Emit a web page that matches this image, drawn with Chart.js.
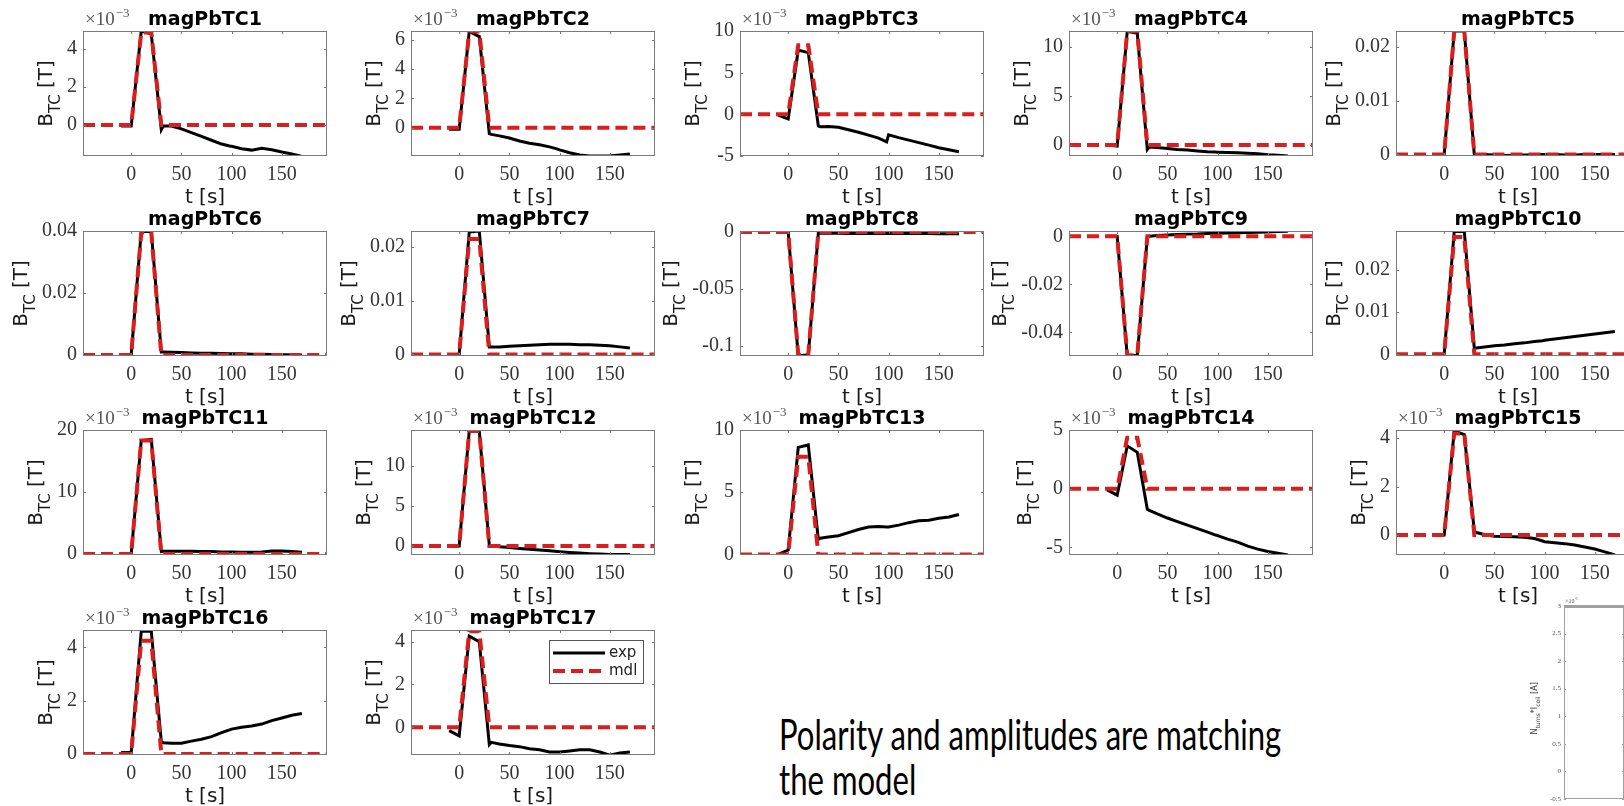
<!DOCTYPE html>
<html>
<head>
<meta charset="utf-8">
<script src="https://cdn.jsdelivr.net/npm/chart.js@4"></script>
<style>
  body { margin: 0; background: #fff; width: 1624px; height: 806px; overflow: hidden; position: relative; }
  canvas { position: absolute; }
  #note { position: absolute; left: 779px; top: 712px; font-family: Lato, "Open Sans", sans-serif; font-size: 42px;
          line-height: 45px; white-space: nowrap; color: #000; transform-origin: 0 0; }
</style>
</head>
<body>
<div id="note"><span id="line1">Polarity and amplitudes are matching</span><br><span>the model</span></div>
<script>
// time grids (s)
const tExp = [-10, 0, 10, 20, 30, 32, 40, 50, 60, 70, 80, 90, 98, 100, 110, 120, 130, 140, 150, 160, 170];
const tMdl = [-48, 0, 10, 20, 30, 195];
const xTicks = [0, 50, 100, 150];

// measured field, in axis units (x1e-3 T where the axis shows the multiplier)
const exp1 = [-0.05, -0.05, 4.95, 4.8, -0.25, -0.05, -0.05, -0.2, -0.4, -0.6, -0.8, -1.0, -1.1, -1.12, -1.25, -1.32, -1.22, -1.3, -1.42, -1.52, -1.65];
const exp2 = [-0.1, -0.1, 6.55, 6.2, -0.4, -0.45, -0.55, -0.7, -0.9, -1.05, -1.15, -1.3, -1.45, -1.5, -1.7, -1.85, -1.92, -1.92, -1.92, -1.85, -1.78];
const exp3 = [-0.1, -0.55, 7.7, 7.4, -1.4, -1.5, -1.45, -1.55, -1.85, -2.15, -2.5, -2.85, -3.3, -2.45, -2.8, -3.1, -3.4, -3.7, -4.0, -4.25, -4.5];
const exp4 = [0, -0.1, 11.6, 11.4, -0.45, -0.2, -0.25, -0.35, -0.45, -0.52, -0.6, -0.68, -0.72, -0.73, -0.76, -0.8, -0.83, -0.88, -0.98, -1.05, -1.12];
const exp5 = [0, 0, 0.023, 0.023, -0.0001, 0, 0, -0.0001, -0.0002, -0.0002, -0.0001, -0.0001, 0, 0, 0, -0.0001, -0.0001, 0, 0, 0, 0];
const exp6 = [0, 0, 0.0398, 0.0398, 0.001, 0.001, 0.0009, 0.0008, 0.0007, 0.0006, 0.0006, 0.0005, 0.0004, 0.0004, 0.0004, 0.0003, 0.0003, 0.0002, 0.0001, 0.0001, 0];
const exp7 = [0, 0, 0.0228, 0.023, 0.0014, 0.0014, 0.0014, 0.0015, 0.0016, 0.0017, 0.0018, 0.0019, 0.0019, 0.0019, 0.0019, 0.0018, 0.0018, 0.0017, 0.0016, 0.0014, 0.0012];
const exp8 = [0, 0, -0.109, -0.108, -0.001, -0.001, -0.001, -0.001, -0.0012, -0.0012, -0.0012, -0.0013, -0.0013, -0.0013, -0.0013, -0.0014, -0.0014, -0.0014, -0.0015, -0.0015, -0.0015];
const exp9 = [0, 0, -0.0498, -0.0495, -0.0003, 0, 0.0003, 0.0005, 0.0007, 0.0009, 0.001, 0.0012, 0.0013, 0.0013, 0.0014, 0.0015, 0.0016, 0.0017, 0.0018, 0.002, 0.0021];
const exp10 = [0, 0.0001, 0.029, 0.029, 0.0014, 0.0015, 0.0017, 0.002, 0.0022, 0.0025, 0.0027, 0.003, 0.0032, 0.0033, 0.0036, 0.0039, 0.0042, 0.0045, 0.0048, 0.0051, 0.0054];
const exp11 = [-0.05, 0, 18.3, 18.5, 0.4, 0.45, 0.45, 0.45, 0.45, 0.4, 0.4, 0.35, 0.35, 0.35, 0.3, 0.3, 0.35, 0.5, 0.5, 0.4, 0.3];
const exp12 = [0, 0, 14.3, 14.3, 0.1, 0.05, -0.1, -0.2, -0.3, -0.4, -0.5, -0.6, -0.68, -0.7, -0.8, -0.88, -0.95, -1.0, -1.05, -1.05, -1.05];
const exp13 = [0, 0.35, 8.6, 8.8, 1.2, 1.3, 1.4, 1.5, 1.75, 2.0, 2.2, 2.25, 2.2, 2.2, 2.35, 2.55, 2.7, 2.75, 2.9, 3.0, 3.2];
const exp14 = [-0.1, -0.55, 3.65, 3.1, -1.75, -1.85, -2.15, -2.5, -2.8, -3.1, -3.4, -3.7, -3.95, -4.0, -4.3, -4.55, -4.9, -5.15, -5.35, -5.5, -5.65];
const exp15 = [0, 0, 4.3, 4.15, 0.15, 0.1, 0.02, -0.05, -0.07, -0.08, -0.1, -0.15, -0.25, -0.28, -0.32, -0.36, -0.42, -0.5, -0.58, -0.7, -0.83];
const exp16 = [0.05, 0.05, 4.6, 4.6, 0.45, 0.42, 0.4, 0.4, 0.48, 0.55, 0.65, 0.8, 0.9, 0.93, 1.0, 1.05, 1.12, 1.25, 1.35, 1.45, 1.52];
const exp17 = [-0.15, -0.4, 4.25, 4.0, -0.8, -0.7, -0.78, -0.85, -0.9, -1.0, -1.05, -1.15, -1.15, -1.15, -1.1, -1.05, -1.05, -1.15, -1.3, -1.2, -1.15];

// model
const mdl1 = [0, 0, 4.87, 4.87, 0, 0];
const mdl2 = [0, 0, 6.55, 6.55, 0, 0];
const mdl3 = [0, 0, 8.3, 8.3, 0, 0];
const mdl4 = [0, 0, 11.6, 11.6, 0, 0];
const mdl5 = [0, 0, 0.023, 0.023, 0, 0];
const mdl6 = [0, 0, 0.0395, 0.0395, 0, 0];
const mdl7 = [0, 0, 0.0215, 0.0215, 0, 0];
const mdl8 = [0, 0, -0.108, -0.108, 0, 0];
const mdl9 = [0, 0, -0.0495, -0.0495, 0, 0];
const mdl10 = [0, 0, 0.0277, 0.0277, 0, 0];
const mdl11 = [0, 0, 18.3, 18.3, 0, 0];
const mdl12 = [0, 0, 14.3, 14.3, 0, 0];
const mdl13 = [0, 0, 7.85, 7.85, 0, 0];
const mdl14 = [0, 0, 4.35, 4.35, 0, 0];
const mdl15 = [0, 0, 4.2, 4.2, 0, 0];
const mdl16 = [0, 0, 4.25, 4.25, 0, 0];
const mdl17 = [0, 0, 4.48, 4.48, 0, 0];

const names = ['magPbTC1', 'magPbTC2', 'magPbTC3', 'magPbTC4', 'magPbTC5', 'magPbTC6', 'magPbTC7', 'magPbTC8', 'magPbTC9',
  'magPbTC10', 'magPbTC11', 'magPbTC12', 'magPbTC13', 'magPbTC14', 'magPbTC15', 'magPbTC16', 'magPbTC17'];
const yMin = [-1.63, -1.92, -5, -1.12, -0.0003, -0.0003, -0.0003, -0.109, -0.0498, -0.0004, -0.15, -1.12, -0.05, -5.65, -0.83, -0.04, -1.29];
const yMax = [4.95, 6.58, 10, 11.63, 0.023, 0.04, 0.023, 0.0009, 0.0022, 0.0291, 20, 14.44, 10, 5, 4.34, 4.65, 4.54];
const yTicks = [[0, 2, 4], [0, 2, 4, 6], [-5, 0, 5, 10], [0, 5, 10], [0, 0.01, 0.02], [0, 0.02, 0.04], [0, 0.01, 0.02],
  [-0.1, -0.05, 0], [-0.04, -0.02, 0], [0, 0.01, 0.02], [0, 10, 20], [0, 5, 10], [0, 5, 10], [-5, 0, 5], [0, 2, 4], [0, 2, 4], [0, 2, 4]];
const milli = [true, true, true, true, false, false, false, false, false, false, true, true, true, true, true, true, true];

const expSeries = [exp1, exp2, exp3, exp4, exp5, exp6, exp7, exp8, exp9, exp10, exp11, exp12, exp13, exp14, exp15, exp16, exp17];
const mdlSeries = [mdl1, mdl2, mdl3, mdl4, mdl5, mdl6, mdl7, mdl8, mdl9, mdl10, mdl11, mdl12, mdl13, mdl14, mdl15, mdl16, mdl17];

// inset (cut off at the right edge)
const insetTicks = [-0.5, 0, 0.5, 1, 1.5, 2, 2.5, 3];

const RED = '#d81e1e';
const tickFont = { family: '"Liberation Serif", serif', size: 20 };
const colLeft = [83, 411, 740, 1069, 1396];
const rowTop = [31, 231, 430, 630];
const boxW = 244, boxH = 125;
const padL = 90, padT = 36, padB = 56, padR = 10;

function drawSubLabel(ctx, cx, cy, parts, base) {
  // parts: [text, font, dy]
  ctx.save();
  ctx.translate(cx, cy);
  ctx.rotate(-Math.PI / 2);
  ctx.textAlign = 'left';
  ctx.textBaseline = 'alphabetic';
  let total = 0;
  parts.forEach(p => { ctx.font = p[1]; total += ctx.measureText(p[0]).width; });
  let x = -total / 2;
  parts.forEach(p => { ctx.font = p[1]; ctx.fillText(p[0], x, base + p[2]); x += ctx.measureText(p[0]).width; });
  ctx.restore();
}

const matlabAxes = {
  id: 'matlabAxes',
  afterDraw(chart, args, o) {
    const { ctx, chartArea: a, scales: { x, y } } = chart;
    ctx.save();
    // box and inward ticks
    ctx.strokeStyle = o.boxColor || '#7a7a7a';
    ctx.lineWidth = 1;
    ctx.strokeRect(Math.round(a.left) + 0.5, Math.round(a.top) + 0.5, Math.round(a.width) - 1, Math.round(a.height) - 1);
    if (o.topWidth) {
      ctx.fillStyle = o.boxColor;
      ctx.fillRect(a.left, a.top - 1, a.width, o.topWidth);
    }
    ctx.beginPath();
    const tl = o.tickLen || 3;
    if (o.xTicks) x.ticks.forEach(t => {
      const px = Math.round(x.getPixelForValue(t.value)) + 0.5;
      ctx.moveTo(px, a.bottom); ctx.lineTo(px, a.bottom - tl);
      ctx.moveTo(px, a.top); ctx.lineTo(px, a.top + tl);
    });
    y.ticks.forEach(t => {
      const py = Math.round(y.getPixelForValue(t.value)) + 0.5;
      ctx.moveTo(a.left, py); ctx.lineTo(a.left + tl, py);
      ctx.moveTo(a.right, py); ctx.lineTo(a.right - tl, py);
    });
    ctx.stroke();

    // width of widest y tick label
    ctx.font = `${o.tickSize || 20}px ${o.tickFamily || '"Liberation Serif"'}`;
    let maxW = 0;
    y.ticks.forEach(t => { maxW = Math.max(maxW, ctx.measureText(t.label).width); });

    if (o.title) {
      ctx.fillStyle = '#000';
      ctx.font = 'bold 19px "DejaVu Sans"';
      ctx.textAlign = 'center';
      ctx.textBaseline = 'alphabetic';
      ctx.fillText(o.title, (a.left + a.right) / 2, a.top - 6);
    }
    if (o.mult) {
      ctx.fillStyle = '#555';
      ctx.textAlign = 'left';
      ctx.textBaseline = 'alphabetic';
      ctx.font = `${o.multSize}px "Liberation Serif"`;
      const mx = a.left + o.multDx;
      ctx.fillText('×10', mx, a.top - o.multDy);
      const w = ctx.measureText('×10').width;
      ctx.font = `${Math.round(o.multSize * 0.68)}px "Liberation Serif"`;
      ctx.fillText(o.mult, mx + w + 1, a.top - o.multDy - o.multSize * 0.42);
    }
    if (o.xlabel) {
      ctx.fillStyle = '#1a1a1a';
      ctx.font = '20px "DejaVu Sans"';
      ctx.textAlign = 'center';
      ctx.textBaseline = 'middle';
      ctx.fillText(o.xlabel, (a.left + a.right) / 2, a.bottom + 42);
    }
    if (o.ylabel === 'B') {
      ctx.fillStyle = '#1a1a1a';
      drawSubLabel(ctx, a.left - 6 - maxW - 18, (a.top + a.bottom) / 2,
        [['B', '20px "DejaVu Sans"', 0], ['TC', '15px "DejaVu Sans"', 8], [' [T]', '20px "DejaVu Sans"', 0]], 3);
    }
    if (o.ylabel === 'N') {
      ctx.fillStyle = '#333';
      drawSubLabel(ctx, a.left - 4 - maxW - 14, (a.top + a.bottom) / 2 + 6,
        [['N', '8px "DejaVu Sans"', 0], ['turns', '6px "DejaVu Sans"', 3], ['*I', '8px "DejaVu Sans"', 0],
         ['coil', '6px "DejaVu Sans"', 3], [' [A]', '8px "DejaVu Sans"', 0]], 2);
    }
    if (o.legend) {
      const ds = chart.data.datasets;
      const lx = Math.round(a.right) - 106, ly = Math.round(a.top) + 10, lw = 94, lh = 43;
      ctx.fillStyle = '#fff';
      ctx.fillRect(lx, ly, lw, lh);
      ctx.strokeStyle = '#555';
      ctx.lineWidth = 1;
      ctx.strokeRect(lx + 0.5, ly + 0.5, lw, lh);
      [ds[1], ds[0]].forEach((d, k) => {
        const yy = ly + 13 + k * 18;
        ctx.beginPath();
        ctx.strokeStyle = d.borderColor;
        ctx.lineWidth = d.borderWidth;
        ctx.setLineDash(d.borderDash || []);
        ctx.moveTo(lx + 4, yy); ctx.lineTo(lx + 56, yy);
        ctx.stroke();
        ctx.setLineDash([]);
        ctx.fillStyle = '#222';
        ctx.font = '15px "DejaVu Sans"';
        ctx.textAlign = 'left';
        ctx.textBaseline = 'middle';
        ctx.fillText(d.label, lx + 60, yy);
      });
    }
    ctx.restore();
  }
};

names.forEach((name, i) => {
  const cv = document.createElement('canvas');
  cv.width = boxW + padL + padR;
  cv.height = boxH + padT + padB;
  cv.style.left = (colLeft[i % 5] - padL) + 'px';
  cv.style.top = (rowTop[Math.floor(i / 5)] - padT) + 'px';
  document.body.appendChild(cv);

  new Chart(cv, {
    type: 'line',
    data: {
      datasets: [
        { label: 'mdl', data: tMdl.map((t, k) => ({ x: t, y: mdlSeries[i][k] })), borderColor: RED, borderWidth: 4,
          borderDash: [12, 6], pointRadius: 0, clip: 0 },
        { label: 'exp', data: tExp.map((t, k) => ({ x: t, y: expSeries[i][k] })), borderColor: '#000', borderWidth: 3,
          pointRadius: 0, clip: 0 }
      ]
    },
    options: {
      responsive: false,
      animation: false,
      events: [],
      layout: { padding: { left: 0, right: padR, top: padT, bottom: 0 } },
      plugins: {
        legend: { display: false },
        tooltip: { enabled: false },
        matlabAxes: {
          title: name, xlabel: 't [s]', ylabel: 'B', xTicks: true, legend: i === 16,
          mult: milli[i] ? '−3' : '', multSize: 19, multDx: 2, multDy: 6
        }
      },
      scales: {
        x: {
          type: 'linear', min: -48, max: 195,
          grid: { display: false, drawTicks: false }, border: { display: false },
          afterBuildTicks: s => { s.ticks = xTicks.map(v => ({ value: v })); },
          afterFit: s => { s.height = padB; },
          ticks: { font: tickFont, color: '#333', padding: 7, maxRotation: 0, autoSkip: false, callback: v => String(v) }
        },
        y: {
          type: 'linear', min: yMin[i], max: yMax[i],
          grid: { display: false, drawTicks: false }, border: { display: false },
          afterBuildTicks: s => { s.ticks = yTicks[i].map(v => ({ value: v })); },
          afterFit: s => { s.width = padL; },
          ticks: { font: tickFont, color: '#333', padding: 6, autoSkip: false, callback: v => String(v) }
        }
      }
    },
    plugins: [matlabAxes]
  });
});

// bottom-right inset axis
(function () {
  const cv = document.createElement('canvas');
  cv.width = 154; cv.height = 226;
  cv.style.left = '1470px'; cv.style.top = '580px';
  document.body.appendChild(cv);
  new Chart(cv, {
    type: 'line',
    data: { datasets: [] },
    options: {
      responsive: false, animation: false, events: [],
      layout: { padding: { left: 0, right: -200, top: 26, bottom: 4 } },
      plugins: {
        legend: { display: false }, tooltip: { enabled: false },
        matlabAxes: { ylabel: 'N', mult: '6', multSize: 6, multDx: 1, multDy: 3, tickSize: 7, boxColor: '#a0a0a0', tickLen: 2, topWidth: 3 }
      },
      scales: {
        x: { type: 'linear', min: 0, max: 100, display: false },
        y: {
          type: 'linear', min: -0.5, max: 3,
          grid: { display: false, drawTicks: false }, border: { display: false },
          afterBuildTicks: s => { s.ticks = insetTicks.map(v => ({ value: v })); },
          afterFit: s => { s.width = 94; },
          ticks: { font: { family: '"Liberation Serif"', size: 7 }, color: '#555', padding: 3, autoSkip: false, callback: v => String(v) }
        }
      }
    },
    plugins: [matlabAxes]
  });
})();

// fit the note text to the reference width
const note = document.getElementById('note');
const w1 = document.getElementById('line1').offsetWidth;
note.style.transform = `scaleX(${502 / w1})`;
</script>
</body>
</html>
